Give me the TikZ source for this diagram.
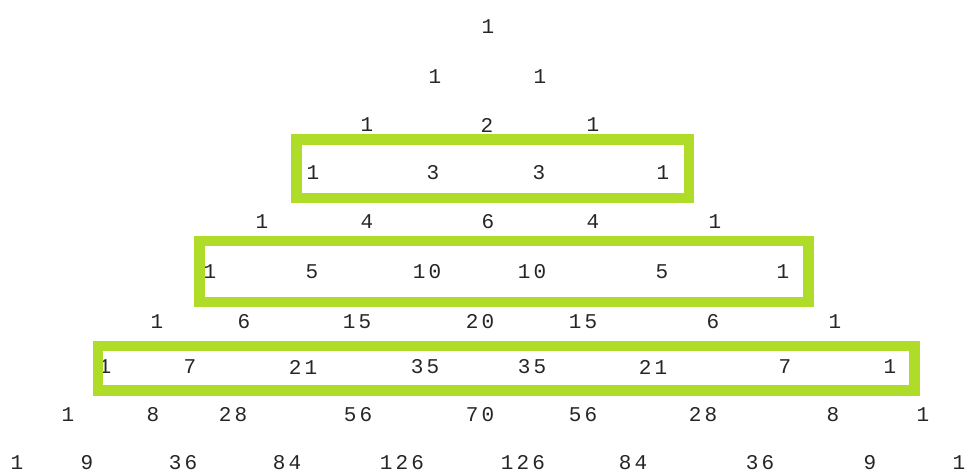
\documentclass[tikz,border=0pt]{standalone}
\usepackage{fontspec}
\newfontfamily\numfont{Liberation Mono}[LetterSpace=15]
\definecolor{limebox}{RGB}{174,220,40}
\tikzset{
  num/.style={font=\numfont\fontsize{21}{21}\selectfont, inner sep=0pt, anchor=center, text=black!85},
  rowbox/.style={draw=limebox, line width=10.5pt}
}
\begin{document}
\begin{tikzpicture}[x=1pt,y=-1pt]
\useasboundingbox[fill=white] (0,0) rectangle (966,476);
% row 0
\node[num] (r0c0) at (488,27) {1};
% row 1
\node[num] (r1c0) at (435,77) {1};
\node[num] (r1c1) at (540,77) {1};
% row 2
\node[num] (r2c0) at (367,125) {1};
\node[num] (r2c1) at (487,125) {2};
\node[num] (r2c2) at (593,125) {1};
% row 3
\node[num] (r3c0) at (313,173) {1};
\node[num] (r3c1) at (433,173) {3};
\node[num] (r3c2) at (539,173) {3};
\node[num] (r3c3) at (663,173) {1};
% row 4
\node[num] (r4c0) at (262,222) {1};
\node[num] (r4c1) at (367,222) {4};
\node[num] (r4c2) at (488,222) {6};
\node[num] (r4c3) at (593,222) {4};
\node[num] (r4c4) at (715,222) {1};
% row 5
\node[num] (r5c0) at (210,272) {1};
\node[num] (r5c1) at (312,272) {5};
\node[num] (r5c2) at (427,272) {10};
\node[num] (r5c3) at (532,272) {10};
\node[num] (r5c4) at (662,272) {5};
\node[num] (r5c5) at (783,272) {1};
% row 6
\node[num] (r6c0) at (157,322) {1};
\node[num] (r6c1) at (244,322) {6};
\node[num] (r6c2) at (357,322) {15};
\node[num] (r6c3) at (480,322) {20};
\node[num] (r6c4) at (583,322) {15};
\node[num] (r6c5) at (713,322) {6};
\node[num] (r6c6) at (835,322) {1};
% row 7
\node[num] (r7c0) at (105,367) {1};
\node[num] (r7c1) at (190,367) {7};
\node[num] (r7c2) at (303,367) {21};
\node[num] (r7c3) at (425,367) {35};
\node[num] (r7c4) at (532,367) {35};
\node[num] (r7c5) at (653,367) {21};
\node[num] (r7c6) at (785,367) {7};
\node[num] (r7c7) at (890,367) {1};
% row 8
\node[num] (r8c0) at (68,415) {1};
\node[num] (r8c1) at (153,415) {8};
\node[num] (r8c2) at (233,415) {28};
\node[num] (r8c3) at (358,415) {56};
\node[num] (r8c4) at (480,415) {70};
\node[num] (r8c5) at (583,415) {56};
\node[num] (r8c6) at (703,415) {28};
\node[num] (r8c7) at (833,415) {8};
\node[num] (r8c8) at (923,415) {1};
% row 9
\node[num] (r9c0) at (17,463) {1};
\node[num] (r9c1) at (87,463) {9};
\node[num] (r9c2) at (183,463) {36};
\node[num] (r9c3) at (287,463) {84};
\node[num] (r9c4) at (402,463) {126};
\node[num] (r9c5) at (523,463) {126};
\node[num] (r9c6) at (633,463) {84};
\node[num] (r9c7) at (760,463) {36};
\node[num] (r9c8) at (870,463) {9};
\node[num] (r9c9) at (959,463) {1};
% boxes around rows 3, 5 and 7
\draw[rowbox] (296.5,139.5) rectangle (689,198);
\draw[rowbox] (199.5,241) rectangle (808.5,302);
\draw[rowbox] (98,346) rectangle (914.5,390.5);
\end{tikzpicture}
\end{document}
